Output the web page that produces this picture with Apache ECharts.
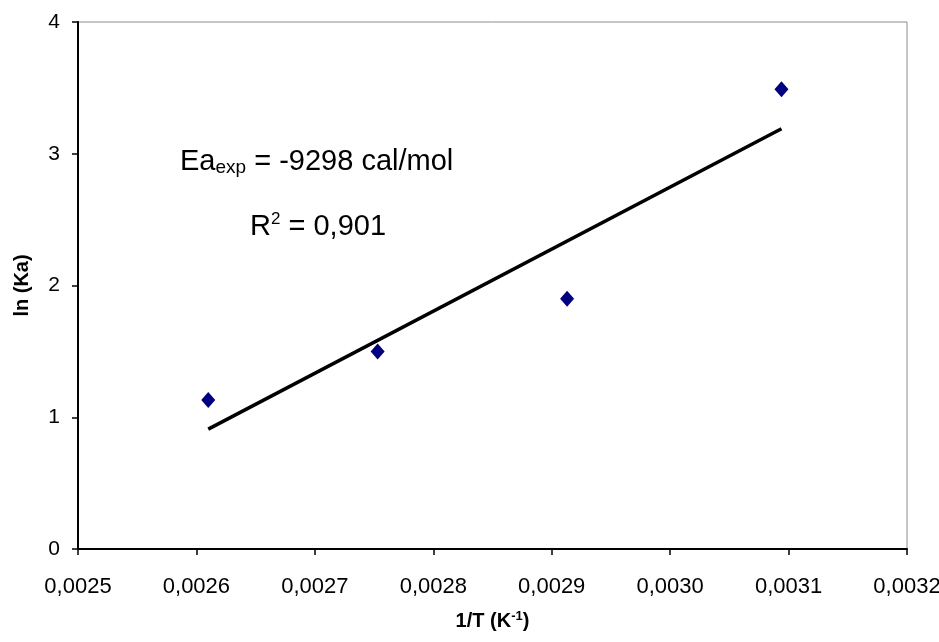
<!DOCTYPE html>
<html>
<head>
<meta charset="utf-8">
<script src="https://cdn.jsdelivr.net/npm/echarts@6/dist/echarts.min.js"></script>
<style>
  html, body { margin: 0; padding: 0; background: #fff; }
  #chart { width: 939px; height: 642px; }
</style>
</head>
<body>
<div id="chart"></div>
<script>
// measured points: 1/T (K^-1) and ln(Ka)
var invT = [0.00261, 0.002753, 0.002913, 0.003094];
var lnKa = [1.13, 1.50, 1.90, 3.49];
// linear trend line, end points
var trendX = [0.00261, 0.003094];
var trendY = [0.91, 3.19];

var xTicks = [0.0025, 0.0026, 0.0027, 0.0028, 0.0029, 0.0030, 0.0031, 0.0032];
var yTicks = [0, 1, 2, 3, 4];

var font = 'Liberation Sans, Arial, sans-serif';

function pairs(xs, ys) {
    var out = [];
    for (var i = 0; i < xs.length; i++) {
        out.push([xs[i], ys[i]]);
    }
    return out;
}

var myChart = echarts.init(document.getElementById('chart'));

var option = {
    backgroundColor: '#fff',
    animation: false,
    grid: {
        left: 78,
        right: 32,
        top: 22,
        bottom: 93,
        outerBoundsMode: 'none',
        containLabel: false,
        show: true,
        borderColor: '#8c8c8c',
        borderWidth: 1
    },
    xAxis: {
        type: 'value',
        min: xTicks[0],
        max: xTicks[xTicks.length - 1],
        interval: 0.0001,
        name: '1/T (K{sup|-1})',
        nameLocation: 'middle',
        nameGap: 61,
        nameTextStyle: {
            fontFamily: font,
            fontSize: 20,
            fontWeight: 'bold',
            color: '#000',
            rich: {
                sup: {
                    fontFamily: font,
                    fontSize: 13,
                    fontWeight: 'bold',
                    color: '#000',
                    padding: [0, 0, 10, 0]
                }
            }
        },
        axisLine: { onZero: false, lineStyle: { color: '#000', width: 2 } },
        axisTick: { show: true, inside: false, length: 6, lineStyle: { color: '#000', width: 1.5 } },
        splitLine: { show: false },
        axisLabel: {
            fontFamily: font,
            fontSize: 22,
            color: '#000',
            margin: 27,
            formatter: function (v) {
                return v.toFixed(4).replace('.', ',');
            }
        }
    },
    yAxis: {
        type: 'value',
        min: yTicks[0],
        max: yTicks[yTicks.length - 1],
        interval: 1,
        name: 'ln (Ka)',
        nameLocation: 'middle',
        nameGap: 46,
        nameTextStyle: {
            fontFamily: font,
            fontSize: 20,
            fontWeight: 'bold',
            color: '#000'
        },
        axisLine: { onZero: false, lineStyle: { color: '#000', width: 2 } },
        axisTick: { show: true, inside: false, length: 6, lineStyle: { color: '#000', width: 1.5 } },
        splitLine: { show: false },
        axisLabel: {
            fontFamily: font,
            fontSize: 21,
            color: '#000',
            margin: 18
        }
    },
    graphic: [
        {
            type: 'text',
            left: 180,
            top: 147,
            style: {
                text: 'Ea{sub|exp} = -9298 cal/mol',
                fontFamily: font,
                fontSize: 29,
                fill: '#000',
                rich: {
                    sub: {
                        fontFamily: font,
                        fontSize: 19,
                        fill: '#000',
                        padding: [12, 0, 0, 0]
                    }
                }
            }
        },
        {
            type: 'text',
            left: 250,
            top: 211,
            style: {
                text: 'R{sup|2} = 0,901',
                fontFamily: font,
                fontSize: 29,
                fill: '#000',
                rich: {
                    sup: {
                        fontFamily: font,
                        fontSize: 17,
                        fill: '#000',
                        padding: [0, 0, 14, 0]
                    }
                }
            }
        }
    ],
    series: [
        {
            name: 'trend',
            type: 'line',
            data: pairs(trendX, trendY),
            showSymbol: false,
            symbol: 'none',
            lineStyle: { color: '#000', width: 3.5 },
            z: 2
        },
        {
            name: 'ln (Ka)',
            type: 'scatter',
            data: pairs(invT, lnKa),
            symbol: 'diamond',
            symbolSize: [14, 16],
            itemStyle: { color: '#000080', opacity: 1 },
            z: 3
        }
    ]
};

myChart.setOption(option);
</script>
</body>
</html>
